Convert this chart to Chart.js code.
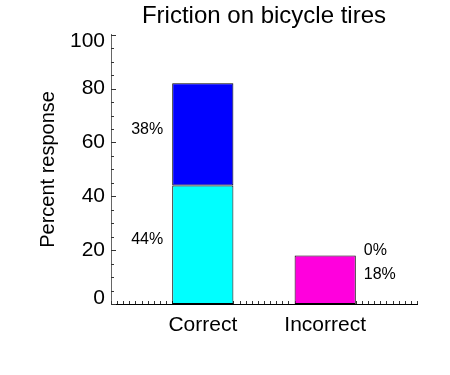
<!DOCTYPE html>
<html>
<head>
<meta charset="utf-8">
<script src="https://cdn.jsdelivr.net/npm/chart.js@4/dist/chart.umd.min.js"></script>
<style>
  html, body { margin: 0; padding: 0; background: #fff; }
  #wrap { width: 450px; height: 375px; }
</style>
</head>
<body>
<div id="wrap"><canvas id="grafico" width="450" height="375"></canvas></div>
<script>
const categorias = ['Correct', 'Incorrect'];
const posicoes = [0, 1];
const valoresBase = [44, 18];
const valoresTopo = [38, 0];
const coresBase = ['#00FFFF', '#FF00DD'];
const corTopo = '#0000FF';
const ticksY = [0, 20, 40, 60, 80, 100];

const fonte = '"Liberation Sans", Arial, Helvetica, sans-serif';

// marcas menores para dentro (atrás das barras), rótulos do eixo y e de porcentagem
const pluginMarcas = {
  id: 'marcas',
  beforeDatasetsDraw(chart) {
    const ctx = chart.ctx;
    const x = chart.scales.x, y = chart.scales.y;
    ctx.save();
    ctx.strokeStyle = '#333';
    ctx.lineWidth = 1;
    ctx.beginPath();
    for (let v = x.min; v <= x.max + 1e-9; v += 0.05) {
      const px = Math.round(x.getPixelForValue(v)) + 0.5;
      ctx.moveTo(px, y.bottom);
      ctx.lineTo(px, y.bottom - 3);
    }
    for (let v = 0; v <= 100; v += 5) {
      const py = Math.round(y.getPixelForValue(v)) + 0.5;
      ctx.moveTo(x.left, py);
      ctx.lineTo(x.left + (v % 20 === 0 ? 5 : 3), py);
    }
    ctx.stroke();
    ctx.restore();
  },
  afterDraw(chart) {
    const ctx = chart.ctx;
    const x = chart.scales.x, y = chart.scales.y;
    ctx.save();
    ctx.fillStyle = '#000';
    ctx.font = '21px ' + fonte;
    ctx.textAlign = 'right';
    ctx.textBaseline = 'middle';
    ticksY.forEach((v, i) => {
      let py = y.getPixelForValue(v);
      if (i === 0) py -= 6;
      if (i === ticksY.length - 1) py += 6;
      ctx.fillText(String(v), x.left - 6, py);
    });

    ctx.font = '16px ' + fonte;
    chart.data.datasets.forEach((ds, d) => {
      chart.getDatasetMeta(d).data.forEach((bar, i) => {
        const meio = (bar.y + bar.base) / 2 - 5;
        const texto = ds.data[i].y + '%';
        if (i === 0) {
          ctx.textAlign = 'right';
          ctx.fillText(texto, bar.x - bar.width / 2 - 9, meio);
        } else {
          ctx.textAlign = 'left';
          ctx.fillText(texto, bar.x + bar.width / 2 + 8, meio);
        }
      });
    });
    ctx.restore();
  }
};

new Chart(document.getElementById('grafico'), {
  type: 'bar',
  data: {
    datasets: [
      {
        data: posicoes.map((p, i) => ({ x: p, y: valoresBase[i] })),
        backgroundColor: coresBase,
        borderColor: '#000',
        borderWidth: 1,
        borderSkipped: false
      },
      {
        data: posicoes.map((p, i) => ({ x: p, y: valoresTopo[i] })),
        backgroundColor: corTopo,
        borderColor: '#000',
        borderWidth: 1,
        borderSkipped: false
      }
    ]
  },
  options: {
    responsive: false,
    animation: false,
    devicePixelRatio: 1,
    categoryPercentage: 1,
    barPercentage: 0.5,
    layout: { padding: { top: 0, right: 33, bottom: 0, left: 0 } },
    plugins: {
      legend: { display: false },
      tooltip: { enabled: false },
      title: {
        display: true,
        fullSize: false,
        text: 'Friction on bicycle tires',
        color: '#000',
        font: { family: fonte, size: 24, weight: 'normal' },
        padding: { top: 2, bottom: 4 }
      }
    },
    scales: {
      x: {
        type: 'linear',
        stacked: true,
        offset: false,
        min: -0.75,
        max: 1.75,
        afterBuildTicks: s => { s.ticks = posicoes.map(v => ({ value: v })); },
        afterFit: s => { s.height = 71; },
        grid: { display: false, drawTicks: false },
        border: { color: '#000', width: 1 },
        ticks: {
          color: '#000',
          font: { family: fonte, size: 21 },
          padding: 9,
          autoSkip: false,
          maxRotation: 0,
          callback: v => categorias[posicoes.indexOf(v)]
        }
      },
      y: {
        stacked: true,
        min: 0,
        max: 100,
        afterBuildTicks: s => { s.ticks = ticksY.map(v => ({ value: v })); },
        afterFit: s => { s.width = 111; },
        grid: { display: false, drawTicks: false },
        border: { color: '#666', width: 1 },
        ticks: { display: false },
        title: {
          display: true,
          text: 'Percent response',
          color: '#000',
          font: { family: fonte, size: 20 },
          padding: { top: 36, bottom: 0 }
        }
      }
    }
  },
  plugins: [pluginMarcas]
});
</script>
</body>
</html>
